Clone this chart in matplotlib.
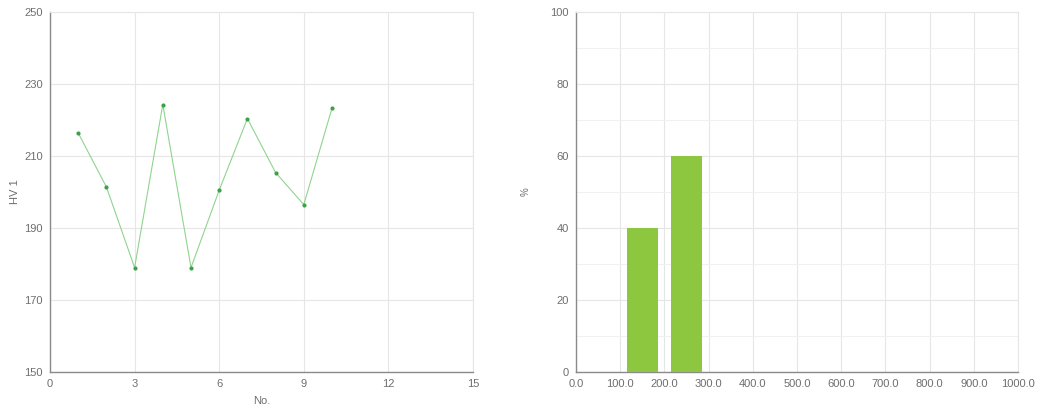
import matplotlib
matplotlib.use("Agg")
import matplotlib.pyplot as plt
from matplotlib.ticker import MultipleLocator, FormatStrFormatter

plt.rcParams['font.family'] = ['Liberation Sans', 'DejaVu Sans']

# Hardness readings per specimen
sample_no = [1, 2, 3, 4, 5, 6, 7, 8, 9, 10]
hv_values = [216.4, 201.4, 179.0, 224.3, 179.0, 200.5, 220.4, 205.4, 196.5, 223.3]
hv_ticks = [150, 170, 190, 210, 230, 250]

# Distribution histogram
bin_centers = [150, 250]
bin_percent = [40, 60]
bin_width = 70

text_col = '#6e6e6e'
grid_col = '#e6e6e6'
spine_col = '#8a8a8a'

fig = plt.figure(figsize=(10.52, 4.09), dpi=100)
W, H = 1052, 409

def place(x0, x1, y0, y1):
    return fig.add_axes([x0 / W, 1 - y1 / H, (x1 - x0) / W, (y1 - y0) / H])

def style(ax):
    for side in ('top', 'right'):
        ax.spines[side].set_color(grid_col)
        ax.spines[side].set_linewidth(0.8)
    for side in ('left', 'bottom'):
        ax.spines[side].set_color(spine_col)
        ax.spines[side].set_linewidth(1.0)
    ax.tick_params(axis='both', which='both', length=0, labelsize=8, colors=text_col, pad=5)
    ax.set_axisbelow(True)

# Left: hardness trend
ax1 = place(50, 473, 12, 372)
ax1.plot(sample_no, hv_values, color='#8fd48f', linewidth=0.8, zorder=3)
ax1.scatter(sample_no, hv_values, s=9, color='#3aa34a', zorder=4, linewidths=0)
ax1.set_xlim(0, 15)
ax1.set_ylim(150, 250)
ax1.xaxis.set_major_locator(MultipleLocator(3))
ax1.set_yticks(hv_ticks)
ax1.grid(True, color=grid_col, linewidth=0.8)
ax1.set_xlabel('No.', fontsize=8, color=text_col, labelpad=5)
ax1.set_ylabel('HV 1', fontsize=8, color=text_col, labelpad=3)
style(ax1)

# Right: percentage histogram
ax2 = place(576, 1018, 12, 372)
ax2.bar(bin_centers, bin_percent, width=bin_width, color='#8dc63f', zorder=3)
ax2.set_xlim(0, 1000)
ax2.set_ylim(0, 100)
ax2.xaxis.set_major_locator(MultipleLocator(100))
ax2.xaxis.set_major_formatter(FormatStrFormatter('%.1f'))
ax2.yaxis.set_major_locator(MultipleLocator(20))
ax2.yaxis.set_minor_locator(MultipleLocator(10))
ax2.grid(True, which='major', color=grid_col, linewidth=0.8)
ax2.grid(True, which='minor', axis='y', color='#f0f0f0', linewidth=0.7)
ax2.set_ylabel('%', fontsize=7, color=text_col, labelpad=14)
style(ax2)

fig.savefig('out.png', dpi=100, facecolor='white')
